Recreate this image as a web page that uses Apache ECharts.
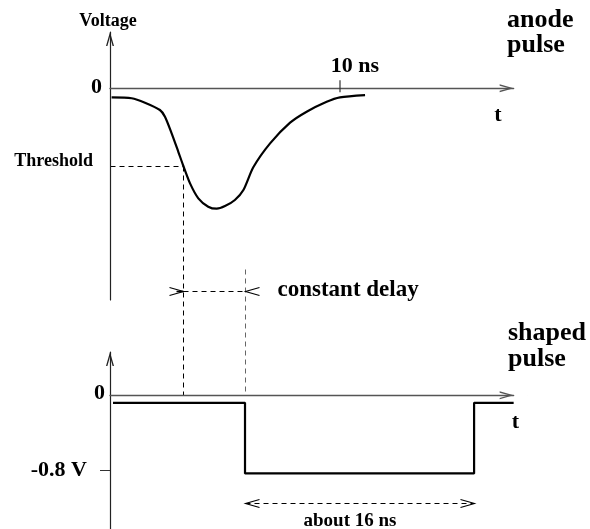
<!DOCTYPE html>
<html>
<head>
<meta charset="utf-8">
<script src="https://cdn.jsdelivr.net/npm/echarts@6/dist/echarts.min.js"></script>
<style>
  html, body { margin: 0; padding: 0; background: #fff; }
  #chart { width: 590px; height: 529px; }
</style>
</head>
<body>
<div id="chart"></div>
<script>
// anode pulse: time in ns, voltage in relative units (peak ~ -1)
const anodeT = [0.07, 0.94, 1.52, 2.17, 2.39, 2.68, 2.97, 3.19, 3.48, 3.84, 4.27, 4.64, 5.0, 5.43, 5.8, 6.23, 6.96, 7.83, 8.55, 9.42, 10.0, 11.09];
const anodeV = [-0.076, -0.084, -0.121, -0.182, -0.238, -0.377, -0.531, -0.65, -0.795, -0.92, -0.99, -1.007, -0.985, -0.934, -0.851, -0.661, -0.461, -0.288, -0.196, -0.113, -0.076, -0.057];

// shaped pulse: time in ns, voltage in V
const shapedT = [0.13, 5.87, 5.87, 15.83, 15.83, 17.55];
const shapedV = [-0.08, -0.08, -0.83, -0.83, -0.08, -0.08];

// ticks / annotations
const threshold = -0.65;
const crossT = 3.18;      // where the anode pulse crosses the threshold
const delayT = 5.87;      // crossT + constant delay
const pulseEndT = 15.83;  // end of shaped pulse
const timeTicks = [10];
const anodeTicks = [0, threshold];
const anodeTickLabels = ['0', 'Threshold'];
const shapedTicks = [0, -0.8];
const shapedTickLabels = ['0', '-0.8 V'];
const delayArrowV = -1.695;  // anode units
const delayLineTopV = -1.51; // anode units
const widthArrowV = -1.14;   // shaped units

const FONT = "'Liberation Serif', 'Times New Roman', serif";
// open arrow head whose tip sits on the axis end (tiny dot on top keeps it centred there)
const ARROW = 'path://M4,0 L4.1,0 L4.1,0.1 Z M4,14 L8,28 L6.6,28 L4,18.8 L1.4,28 L0,28 Z';
const tMax = 17.55;

const chart = echarts.init(document.getElementById('chart'));

function xAxisOpt(grid) {
  return {
    type: 'value', gridIndex: grid, min: 0, max: tMax,
    axisLine: { onZero: true, symbol: ['none', ARROW], symbolSize: [8, 28], lineStyle: { color: '#555', width: 1.3 } },
    axisTick: { show: false }, axisLabel: { show: false }, splitLine: { show: false }
  };
}

const lbl = (size, pad) => ({ fontFamily: FONT, fontWeight: 'bold', fontSize: size, color: '#000', padding: pad });

chart.setOption({
  animation: false,
  grid: [
    { left: 110, top: 32, width: tMax * 23, height: 268, outerBoundsMode: 'none' },
    { left: 110, top: 352, width: tMax * 23, height: 177, outerBoundsMode: 'none' }
  ],
  xAxis: [xAxisOpt(0), xAxisOpt(1)],
  yAxis: [
    {
      type: 'value', gridIndex: 0, min: -1.77, max: 0.47,
      axisLine: { show: true, symbol: ['none', ARROW], symbolSize: [8, 28], lineStyle: { color: '#222', width: 1.2 } },
      axisTick: { show: false }, splitLine: { show: false },
      axisLabel: {
        customValues: anodeTicks, margin: 8,
        formatter: v => {
          const i = anodeTicks.findIndex(t => Math.abs(t - v) < 1e-6);
          return i === 0 ? '{z|' + anodeTickLabels[0] + '}' : '{th|' + anodeTickLabels[i] + '}';
        },
        rich: { z: lbl(22, [0, 0, 2, 0]), th: lbl(18, [0, 9, 10, 0]) }
      }
    },
    {
      type: 'value', gridIndex: 1, min: -1.42, max: 0.46,
      axisLine: { show: true, symbol: ['none', ARROW], symbolSize: [8, 28], lineStyle: { color: '#222', width: 1.2 } },
      axisTick: { show: true, customValues: [shapedTicks[1]], length: 10, lineStyle: { color: '#333' } },
      splitLine: { show: false },
      axisLabel: {
        customValues: shapedTicks, margin: 5,
        formatter: v => {
          const i = shapedTicks.findIndex(t => Math.abs(t - v) < 1e-6);
          return i === 0 ? '{z|' + shapedTickLabels[0] + '}' : '{v|' + shapedTickLabels[i] + '}';
        },
        rich: { z: lbl(22, [0, 0, 3, 0]), v: lbl(22, [0, 18, 0, 0]) }
      }
    }
  ],
  series: [
    {
      name: 'anode', type: 'line', xAxisIndex: 0, yAxisIndex: 0,
      data: anodeT.map((t, i) => [t, anodeV[i]]),
      smooth: 0.25, showSymbol: false, lineStyle: { color: '#000', width: 2.2 }
    },
    {
      name: 'tick', type: 'scatter', xAxisIndex: 0, yAxisIndex: 0,
      data: timeTicks.map(t => [t, 0]),
      symbol: 'rect', symbolSize: [1.2, 12], symbolOffset: [0, -2],
      itemStyle: { color: '#333', opacity: 1 },
      label: {
        show: true, position: 'top', distance: 3, offset: [15, 0],
        formatter: p => p.value[0] + ' ns',
        fontFamily: FONT, fontWeight: 'bold', fontSize: 22, color: '#000', opacity: 1
      }
    },
    {
      name: 'shaped', type: 'line', xAxisIndex: 1, yAxisIndex: 1,
      data: shapedT.map((t, i) => [t, shapedV[i]]),
      clip: false, showSymbol: false, lineStyle: { color: '#000', width: 2.2 }
    }
  ]
});

// dashed connectors and dimension arrows, positioned through the axes
const px = (g, x, y) => {
  const p = chart.convertToPixel({ gridIndex: g }, [x, y]);
  return [Math.round(p[0]) + 0.5, Math.round(p[1]) + 0.5];
};
const dash = (a, b, color) => ({
  type: 'line', shape: { x1: a[0], y1: a[1], x2: b[0], y2: b[1] },
  style: { stroke: color || '#000', lineWidth: 1, lineDash: [5, 4] }
});
const head = (tip, dir) => ({
  type: 'polyline',
  shape: { points: [[tip[0] - dir * 14, tip[1] - 4], tip, [tip[0] - dir * 14, tip[1] + 4]] },
  style: { stroke: '#000', lineWidth: 1.1, fill: null }
});
const txt = (text, x, y, size, align) => ({
  type: 'text', x: x, y: y,
  style: { text: text, fontFamily: FONT, fontWeight: 'bold', fontSize: size, fill: '#000', align: align || 'left', verticalAlign: 'middle' }
});

const a = px(0, crossT, delayArrowV), b = px(0, delayT, delayArrowV);
const c = px(1, delayT, widthArrowV), d = px(1, pulseEndT, widthArrowV);

chart.setOption({
  graphic: [
    dash(px(0, 0, threshold), px(0, crossT, threshold)),
    dash(px(0, crossT, threshold), px(1, crossT, 0)),
    dash(px(0, delayT, delayLineTopV), px(1, delayT, 0), '#666'),
    dash(a, b),
    head(a, 1), head(b, -1),
    { type: 'line', shape: { x1: a[0] - 7, y1: a[1], x2: a[0], y2: a[1] }, style: { stroke: '#000', lineWidth: 1.5 } },
    dash(c, d),
    head(c, -1), head(d, 1),
    txt('constant delay', b[0] + 32, a[1] - 1.5, 23),
    txt('about 16 ns', (c[0] + d[0]) / 2 - 10, c[1] + 17.5, 19, 'center'),
    txt('Voltage', 108, 21, 18, 'center'),
    txt('anode', 507, 20, 26),
    txt('pulse', 507, 45, 26),
    txt('shaped', 508, 333, 26),
    txt('pulse', 508, 359.5, 26),
    txt('t', 498, 115.5, 22, 'center'),
    txt('t', 515.5, 422.5, 22, 'center')
  ]
});
</script>
</body>
</html>
